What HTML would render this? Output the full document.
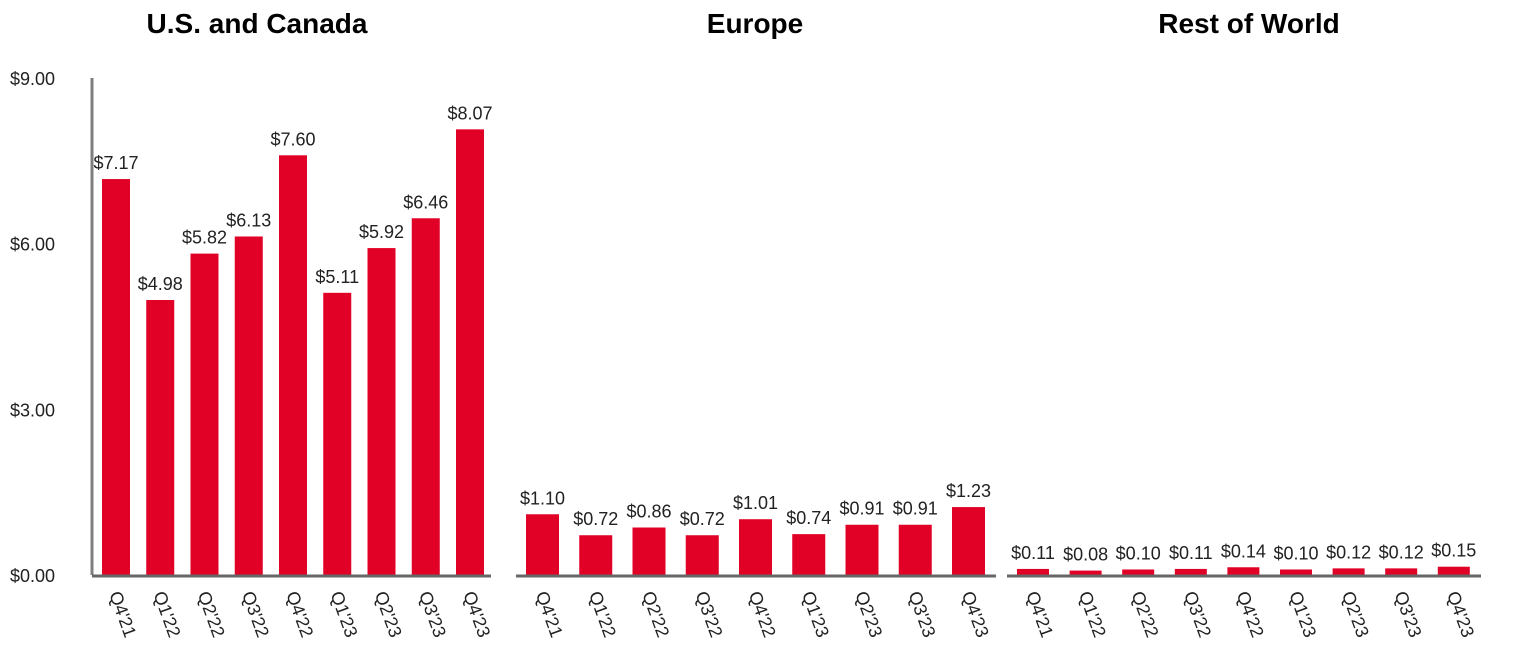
<!DOCTYPE html>
<html><head><meta charset="utf-8"><style>
body{margin:0;background:#fff;}
svg text{font-family:"Liberation Sans",Arial,sans-serif;}
</style></head><body>
<svg id="chart" width="1516" height="663" xmlns="http://www.w3.org/2000/svg"></svg>
<script>
const categories=["Q4'21","Q1'22","Q2'22","Q3'22","Q4'22","Q1'23","Q2'23","Q3'23","Q4'23"];
const panelTitles=["U.S. and Canada","Europe","Rest of World"];
const usCanada=[7.17,4.98,5.82,6.13,7.60,5.11,5.92,6.46,8.07];
const europe=[1.10,0.72,0.86,0.72,1.01,0.74,0.91,0.91,1.23];
const restOfWorld=[0.11,0.08,0.10,0.11,0.14,0.10,0.12,0.12,0.15];
const yTicks=[0,3,6,9];
const yTickLabels=["$0.00","$3.00","$6.00","$9.00"];

const svg=document.getElementById('chart');
const NS="http://www.w3.org/2000/svg";
const base=575, yTop=78, yMax=9;
const y=v=>base-(v/yMax)*(base-yTop);
function el(tag,attrs,parent){const e=document.createElementNS(NS,tag);for(const k in attrs)e.setAttribute(k,attrs[k]);(parent||svg).appendChild(e);return e;}
const panels=[
 {data:usCanada,x0:92,x1:491,first:102,step:44.25,w:28,tx:257,key:'us-canada'},
 {data:europe,x0:516,x1:996,first:526,step:53.25,w:33,tx:755,key:'europe'},
 {data:restOfWorld,x0:1007,x1:1481,first:1017,step:52.6,w:32,tx:1249,key:'rest-of-world'}
];
const ax=el('line',{x1:92,y1:yTop,x2:92,y2:base,stroke:'#7f7f7f','stroke-width':3});


yTicks.forEach((t,i)=>{
 const tx=el('text',{x:10,y:y(t)+7,'font-size':18,fill:'#222'});
 tx.textContent=yTickLabels[i];
 
 
});
panels.forEach((p,pi)=>{
 const g=el('g',{});
 
 
 const t=el('text',{x:p.tx,y:33,'text-anchor':'middle','font-size':28,'font-weight':'bold',fill:'#000'},g);
 t.textContent=panelTitles[pi];
 
 
 p.data.forEach((v,i)=>{
  const bx=p.first+i*p.step, cx=bx+p.w/2;
  const r=el('rect',{x:bx,y:y(v),width:p.w,height:base-y(v),fill:'#e10026'},g);
  
  
  const lb=el('text',{x:cx,y:y(v)-10,'text-anchor':'middle','font-size':18,fill:'#222'},g);
  lb.textContent='$'+v.toFixed(2);
  
  
  const xl=el('text',{x:0,y:0,'font-size':18,fill:'#222',transform:`translate(${cx-7},594) rotate(70)`},g);
  xl.textContent=categories[i];
  
  
 });
 const bl=el('line',{x1:p.x0,y1:base+1,x2:p.x1,y2:base+1,stroke:'#666','stroke-width':3},g);
 
 
});
</script>
</body></html>
